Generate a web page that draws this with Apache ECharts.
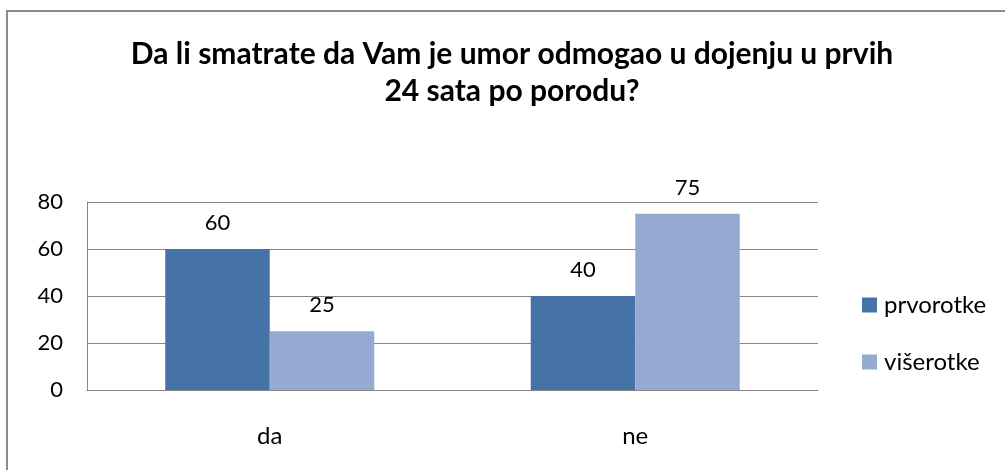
<!DOCTYPE html>
<html>
<head>
<meta charset="utf-8">
<script src="https://cdn.jsdelivr.net/npm/echarts@6/dist/echarts.min.js"></script>
<style>
html,body{margin:0;padding:0;background:#fff;}
#chart{width:1005px;height:470px;}
</style>
</head>
<body>
<div id="chart"></div>
<script>
const titleText = 'Da li smatrate da Vam je umor odmogao u dojenju u prvih\n24 sata po porodu?';
const categories = ['da', 'ne'];
const seriesNames = ['prvorotke', 'višerotke'];
const prvorotke = [60, 40];
const viserotke = [25, 75];
const yTicks = [0, 20, 40, 60, 80];

const FONT = 'Lato';
const chart = echarts.init(document.getElementById('chart'), null, {renderer: 'canvas'});
chart.setOption({
  animation: false,
  backgroundColor: '#fff',
  graphic: [{
    type: 'rect',
    shape: {x: 7, y: 11, width: 1100, height: 600},
    style: {fill: 'none', stroke: '#8c8c8c', lineWidth: 2},
    silent: true, z: -1
  }],
  title: {
    text: titleText,
    left: 507,
    top: 31,
    textAlign: 'center',
    textStyle: {fontFamily: FONT, fontWeight: 'bold', fontSize: 30, lineHeight: 37, color: '#000'}
  },
  legend: {
    orient: 'vertical',
    left: 857,
    top: 288,
    itemWidth: 15,
    itemHeight: 15,
    itemGap: 33,
    icon: 'rect',
    data: seriesNames,
    textStyle: {fontFamily: FONT, fontSize: 24, color: '#000', lineHeight: 15, padding: [0, 0, 0, 2]}
  },
  grid: {left: 87, right: 187, top: 202, bottom: 80, containLabel: false},
  xAxis: {
    type: 'category',
    data: categories,
    axisLine: {lineStyle: {color: '#868686', width: 1}},
    axisTick: {show: false},
    axisLabel: {fontFamily: FONT, fontSize: 24, color: '#000', margin: 34}
  },
  yAxis: {
    type: 'value',
    min: yTicks[0],
    max: yTicks[yTicks.length - 1],
    interval: yTicks[1] - yTicks[0],
    axisLine: {show: true, lineStyle: {color: '#868686', width: 1}},
    axisTick: {show: false},
    splitLine: {lineStyle: {color: '#868686', width: 1}},
    axisLabel: {fontFamily: FONT, fontSize: 22, color: '#000', margin: 24}
  },
  series: [
    {
      name: seriesNames[0], type: 'bar', data: prvorotke,
      barWidth: 104.5, barGap: '0%',
      itemStyle: {color: '#4572A7'},
      label: {show: true, position: 'top', distance: 15, fontFamily: FONT, fontSize: 22, color: '#000'}
    },
    {
      name: seriesNames[1], type: 'bar', data: viserotke,
      barWidth: 104.5, barGap: '0%',
      itemStyle: {color: '#95A9D1'},
      label: {show: true, position: 'top', distance: 15, fontFamily: FONT, fontSize: 22, color: '#000'}
    }
  ]
});
</script>
</body>
</html>
